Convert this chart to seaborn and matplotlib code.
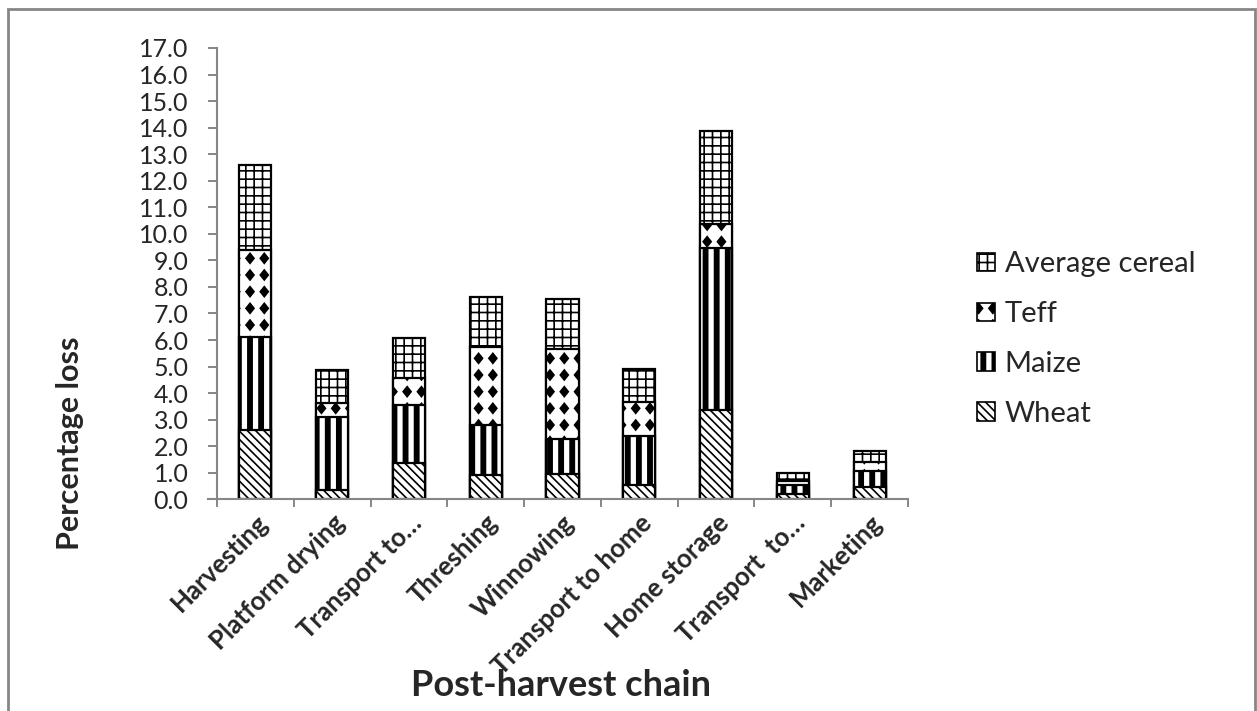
import warnings
import numpy as np
import matplotlib
matplotlib.use("Agg")
import matplotlib.pyplot as plt
import matplotlib.hatch as mhatch
import matplotlib.patches as mpatches
from matplotlib.path import Path
from matplotlib.ticker import FixedLocator, FormatStrFormatter
import seaborn as sns

warnings.filterwarnings("ignore")

# Post-harvest loss (%) per stage, stacked by crop
stages = ["Harvesting", "Platform drying", "Transport to\u2026", "Threshing",
          "Winnowing", "Transport to home", "Home storage", "Transport  to\u2026",
          "Marketing"]
wheat = [2.61, 0.35, 1.36, 0.92, 0.95, 0.54, 3.36, 0.20, 0.45]
maize = [3.51, 2.76, 2.19, 1.88, 1.31, 1.84, 6.09, 0.35, 0.63]
teff = [3.27, 0.51, 1.01, 2.95, 3.39, 1.27, 0.92, 0.15, 0.34]
average_cereal = [3.21, 1.25, 1.50, 1.88, 1.89, 1.25, 3.50, 0.30, 0.41]
series_names = ["Wheat", "Maize", "Teff", "Average cereal"]
y_ticks = [float(v) for v in range(0, 18)]


# --- extra fill patterns: thick vertical bars ('b') and solid diamonds ('d') ---
class ThickVerticalBars(mhatch.HatchPatternBase):
    def __init__(self, hatch, density):
        self.num = 9 * hatch.count("b")
        self.num_vertices = self.num * 5

    def set_vertices_and_codes(self, vertices, codes):
        w = 0.042
        k = 0
        for i in range(self.num):
            x0 = (i + 0.5) / self.num - w / 2
            vertices[k:k + 5] = [(x0, 0), (x0 + w, 0), (x0 + w, 1), (x0, 1), (x0, 0)]
            codes[k:k + 5] = [Path.MOVETO, Path.LINETO, Path.LINETO,
                              Path.LINETO, Path.CLOSEPOLY]
            k += 5


class SolidDiamonds(mhatch.HatchPatternBase):
    def __init__(self, hatch, density):
        n = hatch.count("d")
        self.cols = 7 * n
        self.rows = 6 * n
        self.num_vertices = self.cols * self.rows * 5

    def set_vertices_and_codes(self, vertices, codes):
        hx, hy = 0.040, 0.050
        k = 0
        for i in range(self.cols):
            for j in range(self.rows):
                cx = (i + 0.5) / self.cols
                cy = (j + 0.5) / self.rows
                vertices[k:k + 5] = [(cx, cy + hy), (cx + hx, cy), (cx, cy - hy),
                                     (cx - hx, cy), (cx, cy + hy)]
                codes[k:k + 5] = [Path.MOVETO, Path.LINETO, Path.LINETO,
                                  Path.LINETO, Path.CLOSEPOLY]
                k += 5


mhatch._hatch_types.extend([ThickVerticalBars, SolidDiamonds])

sns.set_style("white")
plt.rcParams["font.family"] = ["Lato", "DejaVu Sans"]
plt.rcParams["hatch.linewidth"] = 1.2
plt.rcParams["hatch.color"] = "black"

hatches = ["\\\\\\\\", "b", "d", "++"]
grey = "#868686"

fig = plt.figure(figsize=(12.57, 7.11), dpi=100)
ax = fig.add_axes([0.1726, 0.2977, 0.5498, 0.6348])

# stacked bars: draw running totals from the top layer down
layers = np.array([wheat, maize, teff, average_cereal])
totals = np.cumsum(layers, axis=0)
for i in reversed(range(len(series_names))):
    sns.barplot(x=stages, y=totals[i], order=stages, color="white",
                edgecolor="black", linewidth=1.6, hatch=hatches[i],
                width=0.42, saturation=1, errorbar=None, ax=ax)

ax.set_xlim(-0.5, len(stages) - 0.5)
ax.set_ylim(0, 17)
ax.yaxis.set_major_locator(FixedLocator(y_ticks))
ax.yaxis.set_major_formatter(FormatStrFormatter("%.1f"))

for side in ["top", "right"]:
    ax.spines[side].set_visible(False)
for side in ["left", "bottom"]:
    ax.spines[side].set_color(grey)
    ax.spines[side].set_linewidth(1.5)
ax.spines["bottom"].set_bounds(-0.5 - 9 / 76.8, len(stages) - 0.5)

ax.tick_params(axis="y", direction="out", length=6.5, width=1.4, color=grey,
               labelsize=18, pad=14, left=True)
ax.set_xticks(range(len(stages)))
ax.set_xticks(np.arange(-0.5, len(stages)), minor=True)
ax.tick_params(axis="x", which="major", length=0, pad=8)
ax.tick_params(axis="x", which="minor", direction="out", length=6, width=1.4,
               color=grey, bottom=True)
ax.set_xticklabels(stages, rotation=45, ha="right", rotation_mode="anchor",
                   fontweight="bold", fontsize=18.5)

ax.set_xlabel("Post-harvest chain", fontsize=26, fontweight="bold")
ax.xaxis.set_label_coords(0.498, -0.413)
ax.xaxis.label.set_va("center")
ax.set_ylabel("Percentage loss", fontsize=22, fontweight="bold")
ax.yaxis.set_label_coords(-0.213, 0.125)
ax.yaxis.label.set_va("center")

handles = [mpatches.Patch(facecolor="white", edgecolor="black", linewidth=1.2,
                          hatch=hatches[i], label=series_names[i])
           for i in reversed(range(len(series_names)))]
fig.legend(handles=handles, loc="center left",
           bbox_to_anchor=(977 / 1257, 1 - 339 / 711), frameon=False,
           fontsize=21, handlelength=0.6, handleheight=0.6, handletextpad=0.35,
           labelspacing=0.82, borderpad=0, borderaxespad=0)

# outer chart frame
fig.add_artist(mpatches.Rectangle((8 / 1257, -0.01), 1247 / 1257, 1 - 9 / 711 + 0.01,
                                  transform=fig.transFigure, fill=False,
                                  edgecolor=grey, linewidth=2))

fig.savefig("out.png", dpi=100)
